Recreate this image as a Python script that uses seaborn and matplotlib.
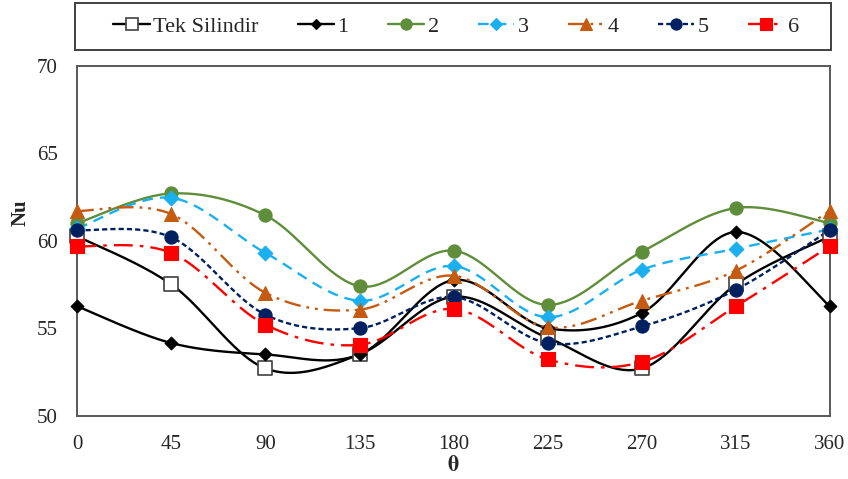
import numpy as np
import matplotlib
matplotlib.use("Agg")
import matplotlib.pyplot as plt
from matplotlib.lines import Line2D
from matplotlib.patches import Rectangle
import seaborn as sns

sns.set_theme(style="white")
plt.rcParams["font.family"] = ["Liberation Serif", "DejaVu Serif"]
plt.rcParams["mathtext.fontset"] = "stix"

# Angle around the cylinder (degrees)
theta = [0, 45, 90, 135, 180, 225, 270, 315, 360]

# Nusselt number for each configuration
nu_tek = [60.25, 57.5, 52.7, 53.5, 56.8, 54.45, 52.7, 57.5, 60.25]
nu_1 = [56.25, 54.15, 53.5, 53.5, 57.75, 55.0, 55.87, 60.5, 56.25]
nu_2 = [61.0, 62.7, 61.45, 57.4, 59.43, 56.33, 59.37, 61.87, 61.0]
nu_3 = [60.7, 62.45, 59.3, 56.57, 58.55, 55.63, 58.34, 59.54, 60.65]
nu_4 = [61.7, 61.52, 57.02, 56.06, 58.0, 55.05, 56.57, 58.29, 61.72]
nu_5 = [60.6, 60.19, 55.77, 55.0, 56.78, 54.15, 55.1, 57.2, 60.62]
nu_6 = [59.68, 59.3, 55.2, 54.05, 56.1, 53.22, 53.07, 56.25, 59.7]

labels = ["Tek Silindir", "1", "2", "3", "4", "5", "6"]
series = [nu_tek, nu_1, nu_2, nu_3, nu_4, nu_5, nu_6]

styles = [
    dict(color="#000000", ls="-", marker="s", mfc="white", mec="#404040", ms=10.5, mew=1.2),
    dict(color="#000000", ls="-", marker="D", mfc="black", mec="black", ms=6.5, mew=0.8),
    dict(color="#5E8E3A", ls="-", marker="o", mfc="#5E8E3A", mec="#5E8E3A", ms=9.5, mew=0.8),
    dict(color="#1AB0F0", ls=(0, (4.5, 3.0)), marker="D", mfc="#1AB0F0", mec="#1AB0F0", ms=7.5, mew=0.8),
    dict(color="#C55A11", ls=(0, (7, 2.5, 1.2, 2.5, 1.2, 2.5)), marker="^", mfc="#C55A11", mec="#C55A11", ms=10, mew=0.8),
    dict(color="#002060", ls=(0, (2.2, 1.3)), marker="o", mfc="#002060", mec="#002060", ms=9.5, mew=0.8),
    dict(color="#FF0000", ls=(0, (8, 3, 1.5, 3)), marker="s", mfc="#FF0000", mec="#FF0000", ms=9.5, mew=0.8),
]


def smooth(x, y, n=40):
    """Cardinal (Catmull-Rom style) Bezier smoothing between the data points."""
    x = np.asarray(x, float)
    y = np.asarray(y, float)
    px, py = [], []
    m = len(x)
    for i in range(m - 1):
        p0 = np.array([x[max(i - 1, 0)], y[max(i - 1, 0)]])
        p1 = np.array([x[i], y[i]])
        p2 = np.array([x[i + 1], y[i + 1]])
        p3 = np.array([x[min(i + 2, m - 1)], y[min(i + 2, m - 1)]])
        c1 = p1 + (p2 - p0) / 6.0
        c2 = p2 - (p3 - p1) / 6.0
        t = np.linspace(0, 1, n)[:, None]
        b = ((1 - t) ** 3) * p1 + 3 * ((1 - t) ** 2) * t * c1 + 3 * (1 - t) * t ** 2 * c2 + t ** 3 * p2
        if i > 0:
            b = b[1:]
        px.extend(b[:, 0])
        py.extend(b[:, 1])
    return np.array(px), np.array(py)


fig = plt.figure(figsize=(8.48, 4.79), dpi=100)
ax = fig.add_axes([77.3 / 848, 1 - 415.7 / 479, (830 - 77.3) / 848, (415.7 - 65.7) / 479])

handles = []
for lab, vals, st in zip(labels, series, styles):
    sx, sy = smooth(theta, vals)
    sns.lineplot(x=sx, y=sy, ax=ax, color=st["color"], linewidth=1.7,
                 linestyle=st["ls"], sort=False, estimator=None, legend=False)
    sns.scatterplot(x=theta, y=vals, ax=ax, marker=st["marker"], s=st["ms"] ** 2,
                    color=st["mfc"], edgecolor=st["mec"], linewidth=st["mew"],
                    legend=False, zorder=5, clip_on=False)
    handles.append(Line2D([0], [0], color=st["color"], lw=1.7, ls=st["ls"],
                          marker=st["marker"], markerfacecolor=st["mfc"],
                          markeredgecolor=st["mec"], markersize=st["ms"] * 0.85,
                          markeredgewidth=st["mew"]))

ax.set_xlim(0, 360)
ax.set_ylim(50, 70)
ax.set_xticks(theta)
ax.set_yticks([50, 55, 60, 65, 70])
ax.tick_params(axis="x", direction="in", length=5, width=1, color="#595959",
               labelsize=15, pad=14)
ax.tick_params(axis="y", length=0, labelsize=15, pad=14)
for sp in ax.spines.values():
    sp.set_color("#595959")
    sp.set_linewidth(1.4)
    sp.set_visible(True)

ax.set_xlabel("")
ax.set_ylabel("")
fig.text(453 / 848, 1 - 466 / 479, r"$\mathbf{\theta}$", fontsize=16,
         ha="center", va="center")
fig.text(21 / 848, 1 - 213 / 479, "Nu", fontsize=15, fontweight="bold",
         rotation=90, ha="center", va="center")

# Legend box across the top
fig.patches.append(Rectangle((75 / 848, 1 - 50 / 479), 756 / 848, 47 / 479,
                             transform=fig.transFigure, fill=False,
                             edgecolor="#404040", linewidth=1.4))
fig.legend(handles, labels, loc="center", bbox_to_anchor=(456 / 848, 1 - 27 / 479),
           ncol=7, frameon=False, fontsize=16, handlelength=1.65, handletextpad=0.15,
           columnspacing=1.75, borderaxespad=0)

fig.savefig("out.png", dpi=100)
